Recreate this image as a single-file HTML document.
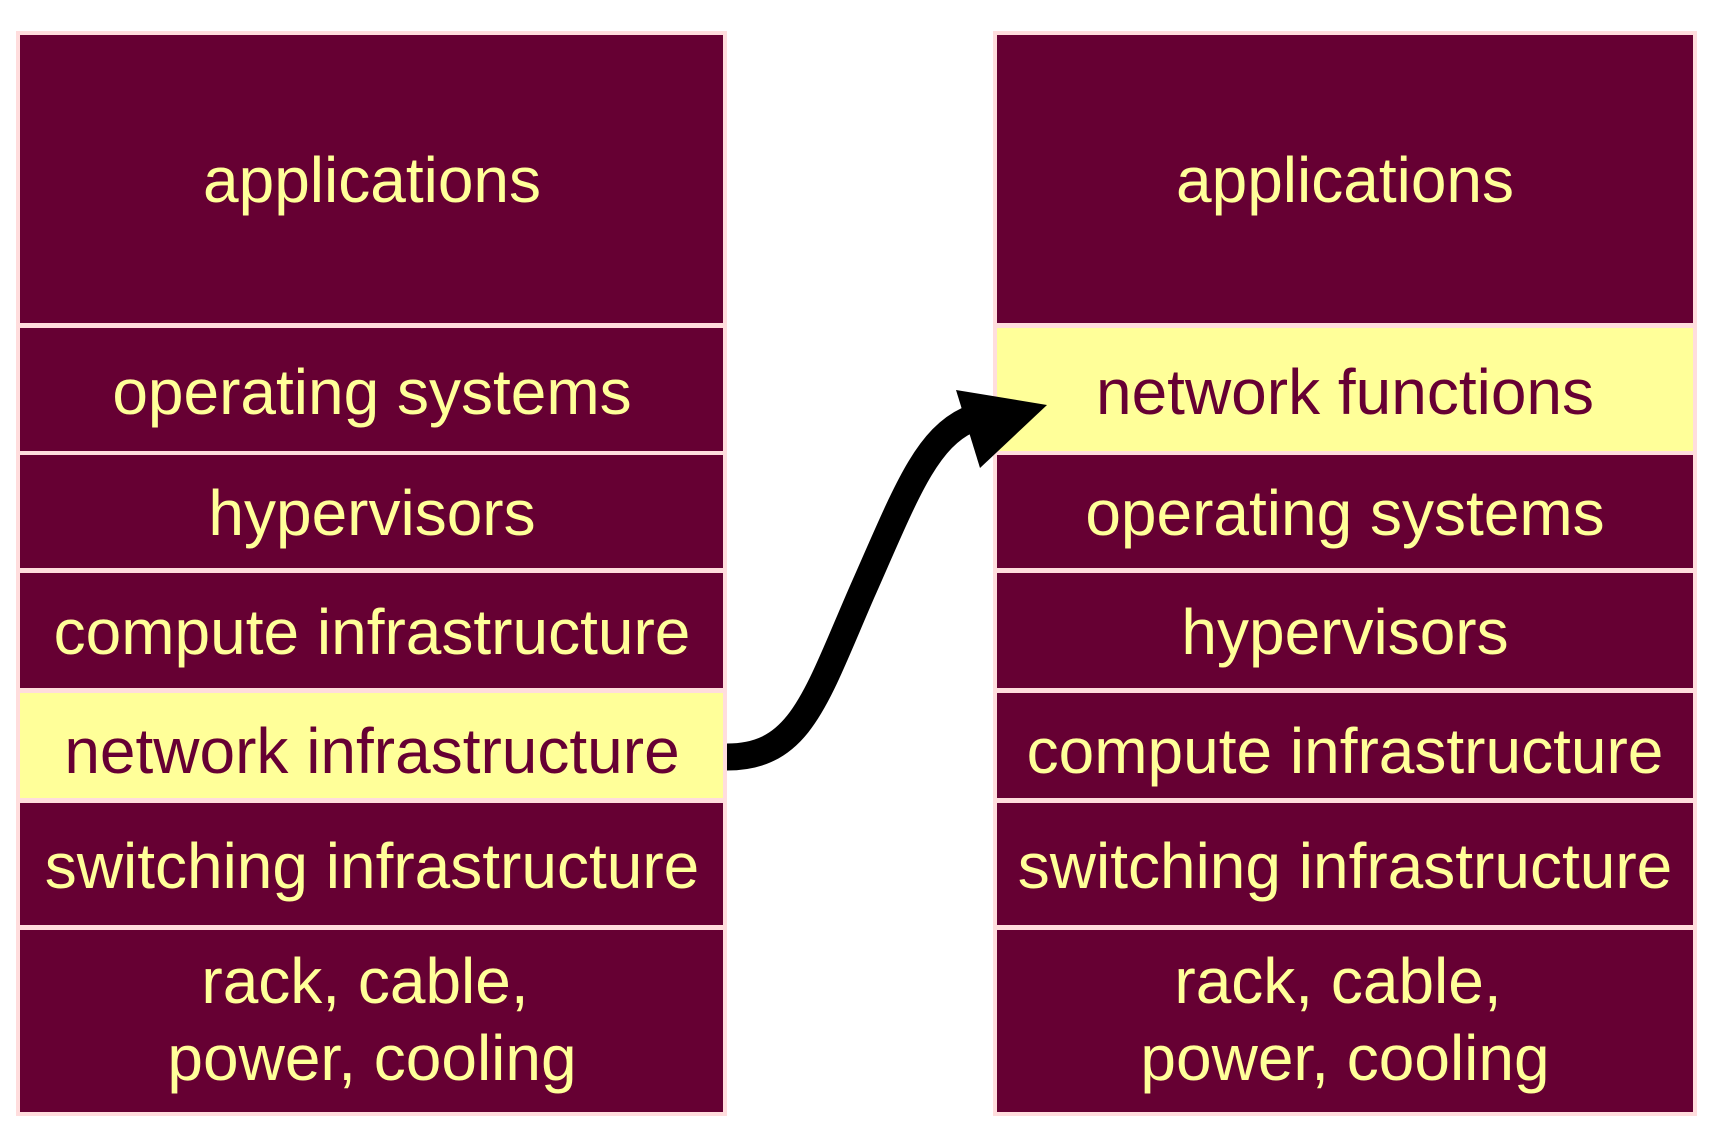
<!DOCTYPE html>
<html><head><style>html,body{margin:0;padding:0;background:#fff}svg{display:block}</style></head>
<body>
<svg width="1726" height="1137" viewBox="0 0 1726 1137" xmlns="http://www.w3.org/2000/svg" font-family="Liberation Sans, Arial, sans-serif" font-size="64" text-anchor="middle">
<rect x="16" y="31" width="711" height="1085" fill="#ffdddd"/>
<rect x="993" y="31" width="704" height="1085" fill="#ffdddd"/>
<g fill="#660033">
<rect x="20" y="35" width="703" height="288"/>
<rect x="20" y="328" width="703" height="123"/>
<rect x="20" y="455" width="703" height="113"/>
<rect x="20" y="573" width="703" height="115"/>
<rect x="20" y="693" width="703" height="105" fill="#ffff99"/>
<rect x="20" y="803" width="703" height="122"/>
<rect x="20" y="930" width="703" height="182"/>
<rect x="997" y="35" width="696" height="288"/>
<rect x="997" y="328" width="696" height="123" fill="#ffff99"/>
<rect x="997" y="455" width="696" height="113"/>
<rect x="997" y="573" width="696" height="115"/>
<rect x="997" y="693" width="696" height="105"/>
<rect x="997" y="803" width="696" height="122"/>
<rect x="997" y="930" width="696" height="182"/>
</g>
<g fill="#ffff99">
<text x="372" y="202">applications</text>
<text x="372" y="414">operating systems</text>
<text x="372" y="535">hypervisors</text>
<text x="372" y="654">compute infrastructure</text>
<text x="372" y="773" fill="#660033">network infrastructure</text>
<text x="372" y="888">switching infrastructure</text>
<text x="365" y="1003">rack, cable,</text>
<text x="372" y="1080">power, cooling</text>
<text x="1345" y="202">applications</text>
<text x="1345" y="414" fill="#660033">network functions</text>
<text x="1345" y="535">operating systems</text>
<text x="1345" y="654">hypervisors</text>
<text x="1345" y="773">compute infrastructure</text>
<text x="1345" y="888">switching infrastructure</text>
<text x="1338" y="1003">rack, cable,</text>
<text x="1345" y="1080">power, cooling</text>
</g>
<path d="M727,757 C800,757 815,700 862,592 C905,495 925,440 968,420" fill="none" stroke="#000" stroke-width="27"/>
<polygon points="956,390 1047,405 980,468" fill="#000"/>
</svg>
</body></html>
